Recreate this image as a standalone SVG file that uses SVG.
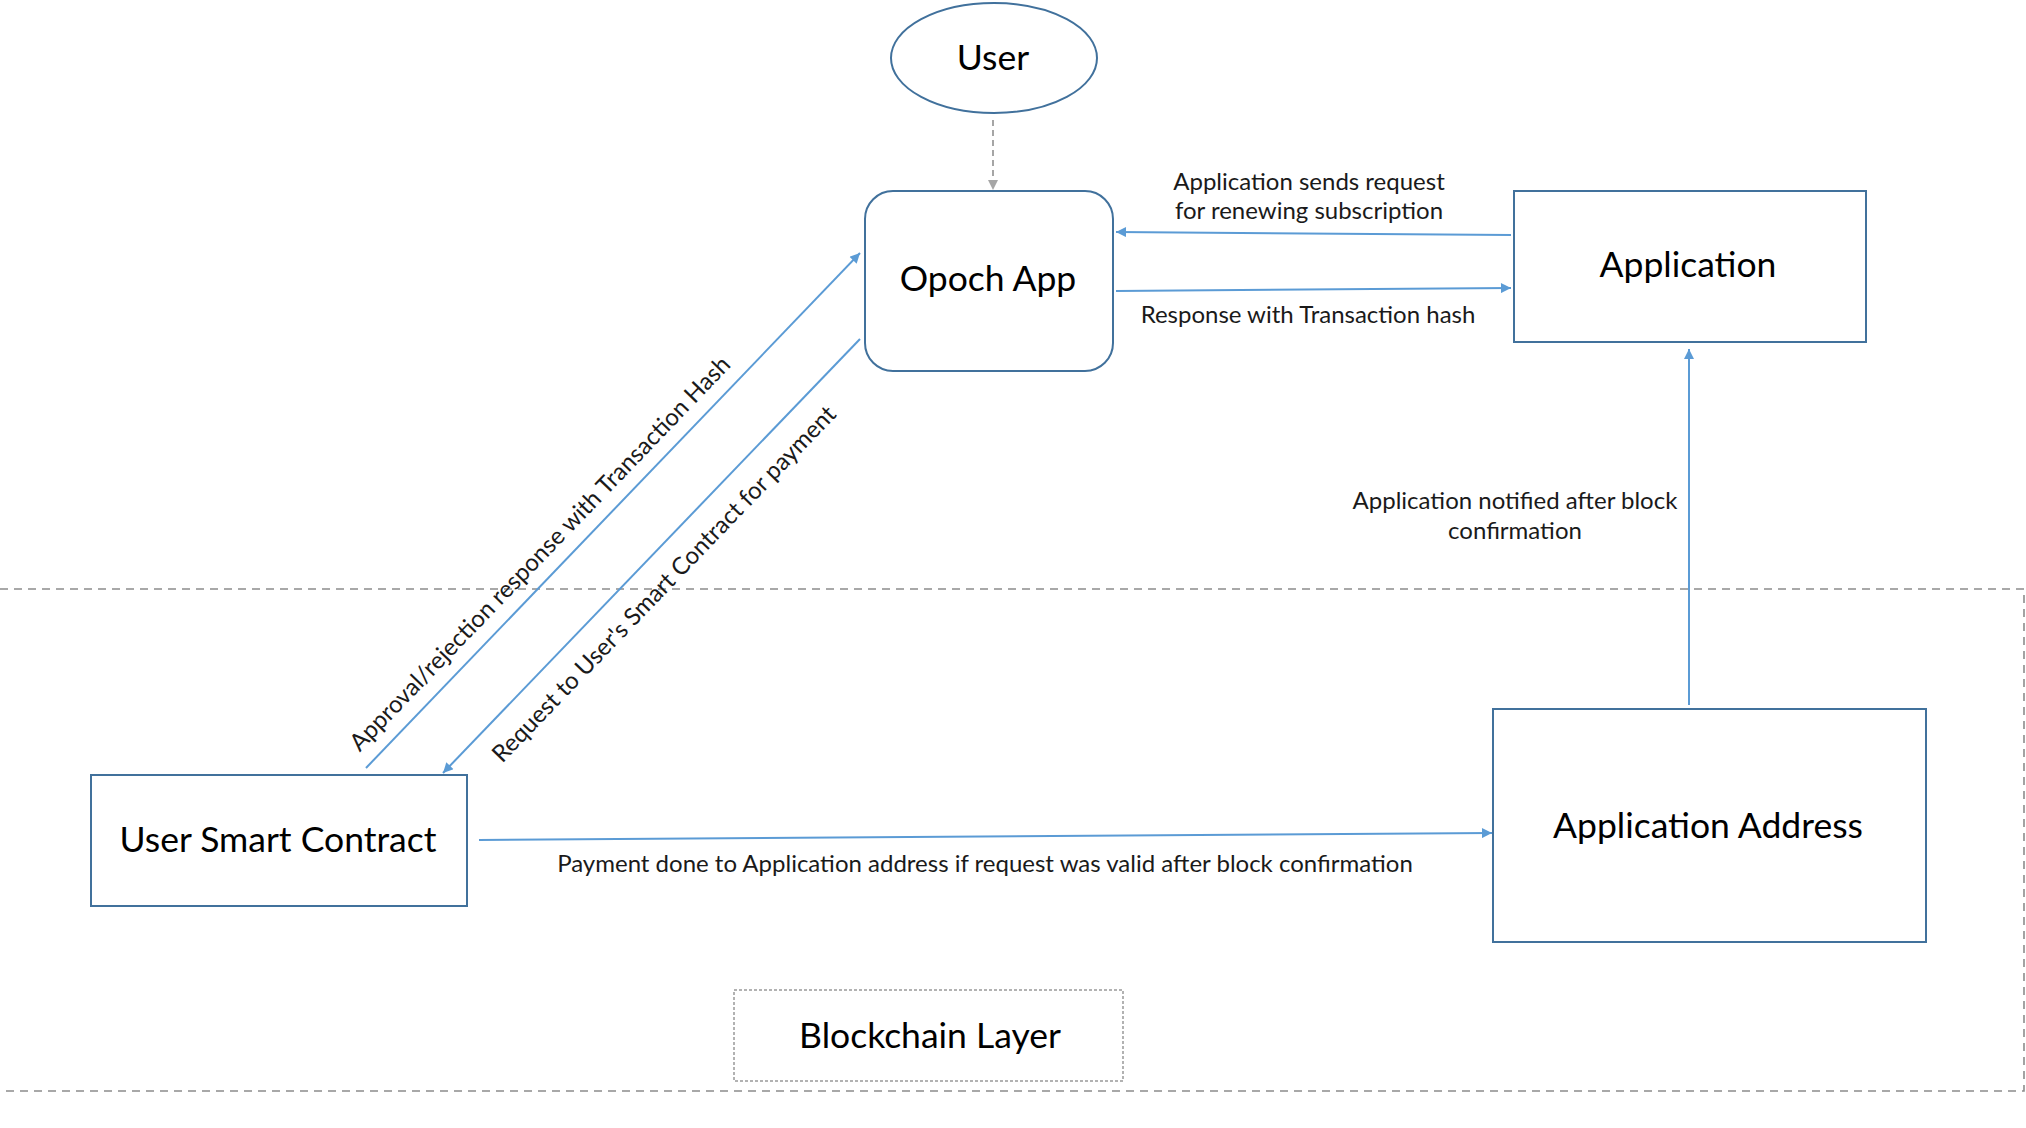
<svg xmlns="http://www.w3.org/2000/svg" width="2026" height="1128" viewBox="0 0 2026 1128">
<style>
.box{fill:#fff;stroke:#41719C;stroke-width:2}
.lbl{font-family:Lato,"Liberation Sans",sans-serif;font-size:35.5px;fill:#000;text-anchor:middle}
.sm{font-family:Lato,"Liberation Sans",sans-serif;font-size:24px;fill:#1a1a1a;text-anchor:middle}
.arr{fill:none;stroke:#5B9BD5;stroke-width:2;marker-end:url(#ah)}
.layer{fill:none;stroke:#8c8c8c;stroke-width:1.6;stroke-dasharray:8 6}
</style>
<defs>
<marker id="ah" viewBox="0 0 10 10" refX="10" refY="5" markerWidth="12" markerHeight="10" markerUnits="userSpaceOnUse" orient="auto">
<path d="M0,0 L10,5 L0,10 z" fill="#5B9BD5"/>
</marker>
<marker id="ahg" viewBox="0 0 10 10" refX="10" refY="5" markerWidth="12" markerHeight="10" markerUnits="userSpaceOnUse" orient="auto">
<path d="M0,0 L10,5 L0,10 z" fill="#a6a6a6"/>
</marker>
</defs>
<rect width="2026" height="1128" fill="#fff"/>
<g id="layer">
<path class="layer" d="M0,589 H2024 V1091 H0"/>
</g>
<g id="blockchain-layer">
<rect x="734" y="990" width="389" height="91" fill="none" stroke="#999" stroke-width="1.5" stroke-dasharray="3 2"/>
<text class="lbl" x="930" y="1048">Blockchain Layer</text>
</g>
<g id="user">
<ellipse cx="994" cy="58" rx="103" ry="55" class="box"/>
<text class="lbl" x="993" y="70">User</text>
</g>
<g id="opoch-app">
<rect x="865" y="191" width="248" height="180" rx="28" class="box"/>
<text class="lbl" x="988" y="291">Opoch App</text>
</g>
<g id="application">
<rect x="1514" y="191" width="352" height="151" class="box"/>
<text class="lbl" x="1688" y="277">Application</text>
</g>
<g id="application-address">
<rect x="1493" y="709" width="433" height="233" class="box"/>
<text class="lbl" x="1708" y="838">Application Address</text>
</g>
<g id="user-smart-contract">
<rect x="91" y="775" width="376" height="131" class="box"/>
<text class="lbl" x="278" y="852">User Smart Contract</text>
</g>
<g id="connectors">
<line x1="993" y1="120" x2="993" y2="190" stroke="#a6a6a6" stroke-width="2" stroke-dasharray="6 4" marker-end="url(#ahg)"/>
<line class="arr" x1="1511" y1="235" x2="1116" y2="232"/>
<line class="arr" x1="1116" y1="291" x2="1511" y2="288"/>
<line class="arr" x1="1689" y1="705" x2="1689" y2="349"/>
<line class="arr" x1="479" y1="840" x2="1492" y2="833"/>
<line class="arr" x1="366" y1="768" x2="860" y2="253"/>
<line class="arr" x1="860" y1="339" x2="443" y2="773"/>
<text class="sm" x="1309" y="190">Application sends request</text>
<text class="sm" x="1309" y="219">for renewing subscription</text>
<text class="sm" x="1308" y="323">Response with Transaction hash</text>
<text class="sm" x="1515" y="509">Application notified after block</text>
<text class="sm" x="1515" y="539">confirmation</text>
<text class="sm" x="985" y="872">Payment done to Application address if request was valid after block confirmation</text>
<text class="sm" transform="translate(541.5,555) rotate(-46.1)" x="0" y="6">Approval/rejection response with Transaction Hash</text>
<text class="sm" transform="translate(665.5,585.5) rotate(-46.1)" x="0" y="6">Request to User's Smart Contract for payment</text>
</g>
</svg>
